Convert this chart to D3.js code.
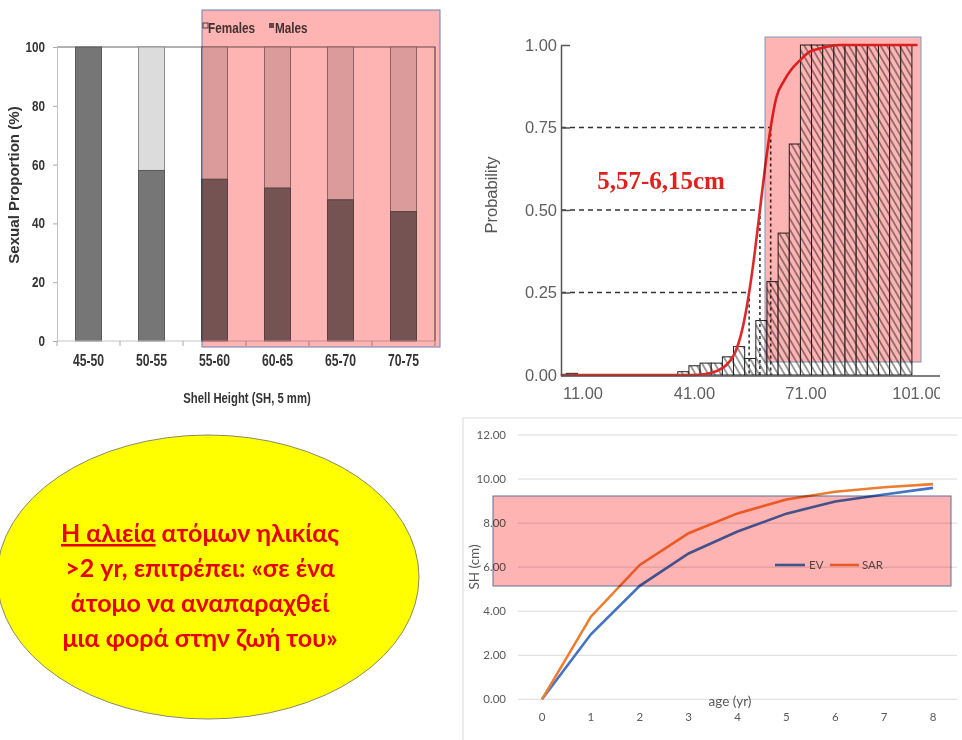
<!DOCTYPE html>
<html>
<head>
<meta charset="utf-8">
<script src="https://cdn.jsdelivr.net/npm/d3@7"></script>
<style>
  body { margin: 0; background: #fff; }
  .ov { mix-blend-mode: multiply; }
</style>
</head>
<body>
<svg id="chart" width="962" height="740"></svg>
<script>
// sex ratio by shell height class
const sizeClasses = ["45-50", "50-55", "55-60", "60-65", "65-70", "70-75"];
const malesPct = [100, 58, 55, 52, 48, 44];
const femalesPct = [0, 42, 45, 48, 52, 56];
const sexTicks = [0, 20, 40, 60, 80, 100];

// maturity ogive: histogram bins (mm) and fitted curve
const binLow = [6.5, 36.5, 39.5, 42.5, 45.5, 48.5, 51.5, 54.5, 57.5, 60.5, 63.5, 66.5,
                69.5, 72.5, 75.5, 78.5, 81.5, 84.5, 87.5, 90.5, 93.5, 96.5];
const binProb = [0.005, 0.01, 0.028, 0.036, 0.036, 0.055, 0.086, 0.05, 0.165, 0.283, 0.43, 0.70,
                 1, 1, 1, 1, 1, 1, 1, 1, 1, 1];
const binWidth = 3;
const curveSize = [5, 40, 44, 47, 50, 52, 54, 55.7, 57.2, 58.6, 60, 61.5, 63, 65, 67, 69.5, 72, 75, 80, 101];
const curveProb = [0, 0, 0.003, 0.012, 0.035, 0.07, 0.145, 0.25, 0.37, 0.5, 0.63, 0.75, 0.84, 0.89, 0.925, 0.955, 0.98, 0.99, 1, 1];
const ogiveLevels = [0.25, 0.5, 0.75];
const ogiveSizes = [55.7, 58.6, 61.5];
const probTicks = [0, 0.25, 0.5, 0.75, 1];
const sizeTicks = [11, 41, 71, 101];

// growth curves
const ages = [0, 1, 2, 3, 4, 5, 6, 7, 8];
const evSH = [0, 2.95, 5.15, 6.62, 7.62, 8.43, 8.98, 9.3, 9.6];
const sarSH = [0, 3.75, 6.1, 7.54, 8.44, 9.07, 9.42, 9.63, 9.77];
const shTicks = [0, 2, 4, 6, 8, 10, 12];

const noteLines = [
  [["Η αλιεία", true], [" ατόμων ηλικίας", false]],
  [[">2 yr, επιτρέπει: «σε ένα", false]],
  [["άτομο να αναπαραχθεί", false]],
  [["μια φορά στην ζωή του»", false]]
];

const svg = d3.select("#chart");
const defs = svg.append("defs");

// condensed bold text (the original uses an Arial Narrow look)
function narrow(g, x, y, txt, size, sx, anchor, rot) {
  return g.append("text")
    .attr("transform", `translate(${x},${y})${rot ? " rotate(" + rot + ")" : ""} scale(${sx},1)`)
    .attr("text-anchor", anchor || "start")
    .attr("font-family", "'Liberation Sans', Arial, sans-serif").attr("font-weight", "bold")
    .attr("font-size", size).attr("fill", "#333").text(txt);
}

// ================= top-left: sexual proportion =================
{
  const g = svg.append("g");
  const x = d3.scaleBand().domain(sizeClasses).range([57, 435]).paddingInner(0.587).paddingOuter(0.2935);
  const y = d3.scaleLinear().domain([0, 100]).range([341, 47]);

  // plot frame top/right
  g.append("path").attr("d", `M57,${y(100)}H435V${y(0)}`).attr("fill", "none").attr("stroke", "#666").attr("stroke-width", 1.2);

  const rows = sizeClasses.map((c, i) => ({ c, m: malesPct[i], f: femalesPct[i] }));
  g.selectAll("rect.f").data(rows.filter(d => d.f > 0)).join("rect")
    .attr("x", d => x(d.c)).attr("width", x.bandwidth())
    .attr("y", d => y(d.m + d.f)).attr("height", d => y(d.m) - y(d.m + d.f))
    .attr("fill", "#dcdcdc").attr("stroke", "#8c8c8c");
  g.selectAll("rect.m").data(rows).join("rect")
    .attr("x", d => x(d.c)).attr("width", x.bandwidth())
    .attr("y", d => y(d.m)).attr("height", d => y(0) - y(d.m))
    .attr("fill", "#767676").attr("stroke", "#5a5a5a");

  const ya = g.append("g").attr("transform", "translate(57,0)")
    .call(d3.axisLeft(y).tickValues(sexTicks).tickSize(4).tickFormat(""));
  ya.select(".domain").attr("stroke", "#c4c4c4");
  ya.selectAll(".tick line").attr("stroke", "#aaa");
  sexTicks.forEach(v => narrow(g, 45, y(v) + 5, v, 15, 0.78, "end"));

  // category axis
  g.append("line").attr("x1", 57).attr("x2", 435).attr("y1", y(0)).attr("y2", y(0)).attr("stroke", "#c4c4c4");
  g.selectAll("line.ct").data(d3.range(sizeClasses.length + 1)).join("line")
    .attr("x1", i => 57 + i * x.step()).attr("x2", i => 57 + i * x.step())
    .attr("y1", y(0)).attr("y2", y(0) + 5).attr("stroke", "#aaa");
  sizeClasses.forEach(c => narrow(g, x(c) + x.bandwidth() / 2, 366, c, 16, 0.76, "middle"));

  narrow(g, 247, 403, "Shell Height (SH, 5 mm)", 15.5, 0.73, "middle");
  narrow(g, 19, 185, "Sexual Proportion (%)", 14.5, 1.04, "middle", -90);

  // legend
  g.append("rect").attr("x", 203).attr("y", 23).attr("width", 5).attr("height", 5).attr("fill", "#fff").attr("stroke", "#555");
  narrow(g, 208, 33, "Females", 14, 0.84).attr("fill", "#444");
  g.append("rect").attr("x", 269).attr("y", 23).attr("width", 5).attr("height", 5).attr("fill", "#666");
  narrow(g, 275, 33, "Males", 14, 0.84).attr("fill", "#444");

  svg.append("rect").attr("class", "ov").attr("x", 202).attr("y", 10).attr("width", 238).attr("height", 337)
    .attr("fill", "#ffb4b4").attr("stroke", "#6f7fae").attr("stroke-width", 1);
}

// ================= top-right: maturity ogive =================
{
  defs.append("clipPath").attr("id", "clipTR").append("rect").attr("x", 470).attr("y", 0).attr("width", 470).attr("height", 420);
  const pat = defs.append("pattern").attr("id", "hatch").attr("patternUnits", "userSpaceOnUse")
    .attr("width", 5.5).attr("height", 5.5).attr("patternTransform", "rotate(-30)");
  pat.append("rect").attr("width", 5.5).attr("height", 5.5).attr("fill", "#fff");
  pat.append("line").attr("x1", 2.75).attr("x2", 2.75).attr("y1", 0).attr("y2", 5.5).attr("stroke", "#2a2a2a").attr("stroke-width", 0.9);

  const g = svg.append("g").attr("clip-path", "url(#clipTR)")
    .attr("font-family", "'Liberation Sans', Arial, sans-serif");
  const x = d3.scaleLinear().domain([11, 101]).range([583, 917.5]);
  const y = d3.scaleLinear().domain([0, 1]).range([375, 45]);

  const bins = binLow.map((lo, i) => ({ lo, hi: lo + binWidth, p: binProb[i] }));
  g.selectAll("rect.bin").data(bins).join("rect")
    .attr("x", d => x(d.lo)).attr("width", d => x(d.hi) - x(d.lo))
    .attr("y", d => y(d.p)).attr("height", d => y(0) - y(d.p))
    .attr("fill", "url(#hatch)").attr("stroke", "#222").attr("stroke-width", 1);

  // quartile guides
  const guides = ogiveLevels.map((p, i) => ({ p, s: ogiveSizes[i] }));
  g.selectAll("path.guide").data(guides).join("path")
    .attr("d", d => `M${x.range()[0] - 22},${y(d.p)}H${x(d.s)}`)
    .attr("stroke", "#333").attr("stroke-width", 1.6).attr("stroke-dasharray", "5,4").attr("fill", "none");
  g.selectAll("path.vguide").data(guides).join("path")
    .attr("d", d => `M${x(d.s)},${y(d.p)}V${y(0)}`)
    .attr("stroke", "#333").attr("stroke-width", 1.6).attr("stroke-dasharray", "3,3").attr("fill", "none");

  const line = d3.line().x(d => x(d[0])).y(d => y(d[1])).curve(d3.curveMonotoneX);
  g.append("path").datum(curveSize.map((s, i) => [s, curveProb[i]]))
    .attr("d", line).attr("fill", "none").attr("stroke", "#dc2a2a").attr("stroke-width", 2.6);

  // axes
  const ya = g.append("g").attr("transform", "translate(561,0)")
    .call(d3.axisLeft(y).tickValues(probTicks).tickFormat(d3.format(".2f")).tickSizeInner(-9).tickSizeOuter(0).tickPadding(6));
  ya.select(".domain").attr("stroke", "#555").attr("stroke-width", 1.5);
  ya.selectAll(".tick line").attr("stroke", "#555").attr("stroke-width", 1.5);
  ya.selectAll("text").attr("font-size", 16.5).attr("fill", "#606060").attr("font-family", null).attr("x", -4).attr("text-anchor", "end");

  g.append("line").attr("x1", 561).attr("x2", 940).attr("y1", 376).attr("y2", 376).attr("stroke", "#555").attr("stroke-width", 1.5);
  g.selectAll("text.xt").data(sizeTicks).join("text")
    .attr("x", d => x(d)).attr("y", 399).attr("text-anchor", "middle")
    .attr("font-size", 16.5).attr("fill", "#606060").text(d => d3.format(".2f")(d));

  g.append("text").attr("transform", "translate(497,195) rotate(-90)").attr("text-anchor", "middle")
    .attr("font-size", 16.5).attr("fill", "#555").text("Probability");

  g.append("text").attr("x", 661).attr("y", 189).attr("text-anchor", "middle")
    .attr("font-family", "'Liberation Serif', 'Times New Roman', serif").attr("font-weight", "bold")
    .attr("font-size", 25).attr("fill", "#e0201c").text("5,57-6,15cm");

  svg.append("rect").attr("class", "ov").attr("x", 765).attr("y", 37).attr("width", 156).attr("height", 325)
    .attr("fill", "#ffb4b4").attr("stroke", "#8395bb").attr("stroke-width", 1);
}

// ================= bottom-left: note ellipse =================
{
  const g = svg.append("g");
  g.append("ellipse").attr("cx", 208).attr("cy", 577).attr("rx", 211).attr("ry", 142)
    .attr("fill", "#ffff00").attr("stroke", "#8a8a6a").attr("stroke-width", 1);
  const t = g.append("text").attr("text-anchor", "middle")
    .attr("font-family", "Lato, 'Open Sans', sans-serif").attr("font-weight", "bold")
    .attr("font-size", 25).attr("fill", "#e60000");
  noteLines.forEach((parts, i) => {
    const ln = t.append("tspan").attr("x", 200).attr("y", 542 + i * 35);
    parts.forEach(([s, u]) => {
      const sp = ln.append("tspan").text(s);
      if (u) sp.style("text-decoration", "underline");
    });
  });
}

// ================= bottom-right: growth curves =================
{
  const g = svg.append("g").attr("font-family", "Lato, Calibri, sans-serif");
  g.append("rect").attr("x", 463).attr("y", 418).attr("width", 520).attr("height", 340)
    .attr("fill", "#fff").attr("stroke", "#d9d9d9");
  const x = d3.scalePoint().domain(ages).range([542, 933]);
  const y = d3.scaleLinear().domain([0, 12]).range([699.3, 435]);

  g.selectAll("line.grid").data(shTicks).join("line")
    .attr("x1", 518).attr("x2", 957).attr("y1", d => y(d)).attr("y2", d => y(d))
    .attr("stroke", "#d9d9d9").attr("stroke-width", 1);
  g.selectAll("text.yt").data(shTicks).join("text")
    .attr("x", 506).attr("y", d => y(d) + 4).attr("text-anchor", "end")
    .attr("font-size", 11.5).attr("fill", "#595959").text(d => d3.format(".2f")(d));
  g.selectAll("text.xt").data(ages).join("text")
    .attr("x", d => x(d)).attr("y", 721).attr("text-anchor", "middle")
    .attr("font-size", 11.5).attr("fill", "#595959").text(d => d);

  const line = d3.line().x((d, i) => x(ages[i])).y(d => y(d));
  g.append("path").attr("d", line(evSH)).attr("fill", "none").attr("stroke", "#4472c4").attr("stroke-width", 2.6);
  g.append("path").attr("d", line(sarSH)).attr("fill", "none").attr("stroke", "#ed7d31").attr("stroke-width", 2.6);

  g.append("text").attr("x", 730).attr("y", 706).attr("text-anchor", "middle")
    .attr("font-size", 13.5).attr("fill", "#595959").text("age (yr)");
  g.append("text").attr("transform", "translate(479,567) rotate(-90)").attr("text-anchor", "middle")
    .attr("font-size", 13.5).attr("fill", "#595959").text("SH (cm)");

  // legend
  g.append("line").attr("x1", 775).attr("x2", 805).attr("y1", 565).attr("y2", 565).attr("stroke", "#4472c4").attr("stroke-width", 2.6);
  g.append("text").attr("x", 809).attr("y", 569).attr("font-size", 11.5).attr("fill", "#595959").text("EV");
  g.append("line").attr("x1", 830).attr("x2", 859).attr("y1", 565).attr("y2", 565).attr("stroke", "#ed7d31").attr("stroke-width", 2.6);
  g.append("text").attr("x", 862).attr("y", 569).attr("font-size", 11.5).attr("fill", "#595959").text("SAR");

  svg.append("rect").attr("class", "ov").attr("x", 493).attr("y", 496).attr("width", 458).attr("height", 90)
    .attr("fill", "#ffb4b4").attr("stroke", "#5f6f96").attr("stroke-width", 1);
}
</script>
</body>
</html>
